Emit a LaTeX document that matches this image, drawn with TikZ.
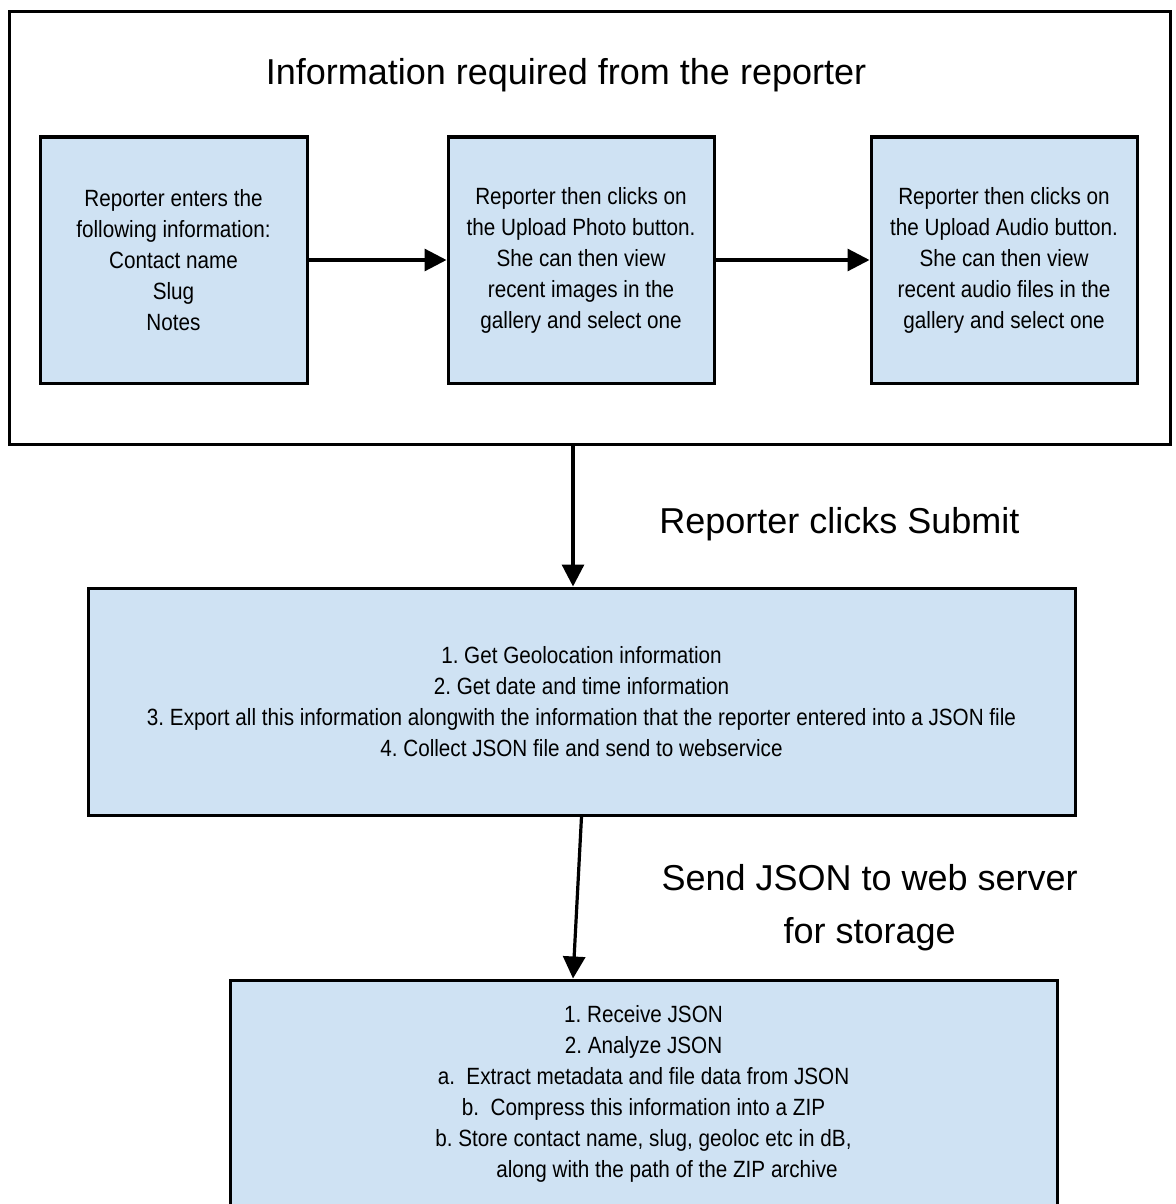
\documentclass[tikz,border=0pt]{standalone}
\usepackage{fontspec}
\setmainfont{Liberation Sans}
\newfontfamily\narrowsans[FakeStretch=0.88]{Liberation Sans}
\usetikzlibrary{positioning,arrows.meta}
\definecolor{boxblue}{RGB}{207,226,243}
\frenchspacing

\begin{document}
\begin{tikzpicture}[
  x=0.5pt, y=-0.5pt,
  stepbox/.style={draw, line width=1.5pt, fill=boxblue, align=center, inner sep=0pt,
                  font=\narrowsans\fontsize{11.75}{15.5}\selectfont},
  outerbox/.style={draw, line width=1.5pt, inner sep=0pt},
  head/.style={font=\fontsize{18}{26.5}\selectfont, align=center},
  arrow/.style={-{Triangle[length=11pt,width=11pt]}, line width=1.6pt}
]
  \useasboundingbox (0,0) rectangle (1176,1204);
  \clip (0,0) rectangle (1176,1204);

  % what the reporter fills in
  \node[outerbox, minimum width=580.5pt, minimum height=216pt] (frame) at (589.5,228) {};
  \node[head] (title) at (566,75) {Information required from the reporter};

  \node[stepbox, minimum width=133.5pt, minimum height=123pt] (enter) at (173.5,260)
    {Reporter enters the\\following information:\\Contact name\\Slug\\Notes};
  \node[stepbox, minimum width=133pt, minimum height=123pt] (photo) at (581,260)
    {Reporter then clicks on\\the Upload Photo button.\\She can then view\\recent images in the\\gallery and select one};
  \node[stepbox, minimum width=133pt, minimum height=123pt] (audio) at (1004,260)
    {Reporter then clicks on\\the Upload Audio button.\\She can then view\\recent audio files in the\\gallery and select one};

  % on the device
  \node[stepbox, minimum width=493.5pt, minimum height=113.5pt] (device) at (581.5,701.5)
    {1. Get Geolocation information\\
     2. Get date and time information\\
     3. Export all this information alongwith the information that the reporter entered into a JSON file\\
     4. Collect JSON file and send to webservice};

  % on the web server
  \node[stepbox, minimum width=413.5pt, minimum height=113.5pt] (server) at (643.5,1093.5)
    {1. Receive JSON\\
     2. Analyze JSON\\
     a.\ \ Extract metadata and file data from JSON\\
     b.\ \ Compress this information into a ZIP\\
     b. Store contact name, slug, geoloc etc in dB,\\
     \hspace*{2em}along with the path of the ZIP archive};

  \draw[arrow] (enter) -- (photo);
  \draw[arrow] (photo) -- (audio);
  \draw[arrow] ([xshift=-8.25pt]frame.south) -- ([xshift=-4.25pt]device.north)
    node[midway, right=39pt, yshift=-4.25pt, head] (submit) {Reporter clicks Submit};
  \draw[arrow] (device.south) -- ([xshift=-35.25pt]server.north)
    node[midway, right=38pt, yshift=-5.25pt, head] (store) {Send JSON to web server\\for storage};
\end{tikzpicture}
\end{document}
